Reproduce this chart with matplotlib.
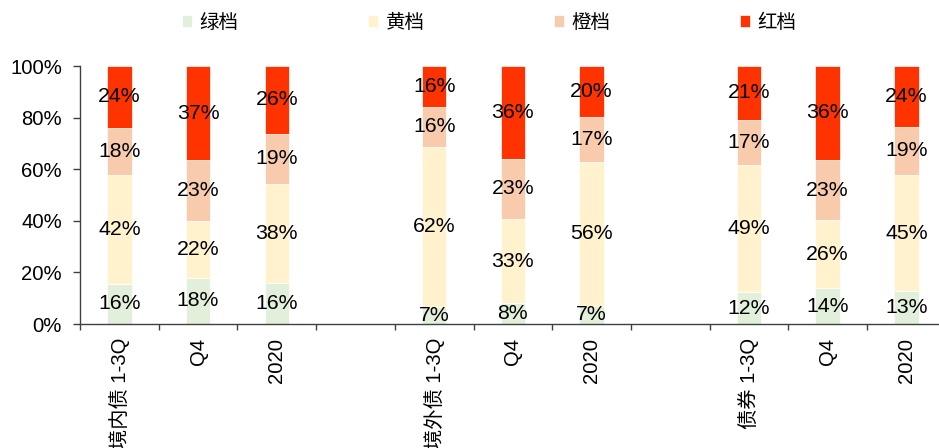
import matplotlib
matplotlib.use("Agg")
import matplotlib.pyplot as plt
import numpy as np
from matplotlib.ticker import FixedLocator, PercentFormatter

plt.rcParams['font.family'] = ['Liberation Sans', 'Noto Sans CJK SC']

# Category slots (empty strings are spacer slots between groups)
categories = ["境内债 1-3Q", "Q4", "2020", "",
              "境外债 1-3Q", "Q4", "2020", "",
              "债券 1-3Q", "Q4", "2020"]
series_names = ["绿档", "黄档", "橙档", "红档"]

# Shares (%) per category, one list per band
green  = [15.6, 17.9, 16.0, np.nan, 6.7, 8.0, 7.0, np.nan, 12.3, 13.8, 12.6]
yellow = [42.0, 22.1, 38.4, np.nan, 62.0, 32.8, 55.9, np.nan, 49.4, 26.4, 45.2]
orange = [18.4, 23.4, 19.4, np.nan, 15.6, 23.3, 17.2, np.nan, 17.4, 23.4, 18.6]
red    = [24.0, 36.6, 26.2, np.nan, 15.7, 35.9, 19.9, np.nan, 20.9, 36.4, 23.6]

colors = ["#E2EFDA", "#FFF2CC", "#F8CBAD", "#FF3300"]

W, H = 939, 448
fig = plt.figure(figsize=(W / 100, H / 100), dpi=100)
ax = fig.add_axes([80 / W, 124 / H, (945.7 - 80) / W, 258 / H])

x = np.arange(len(categories))
bar_w = 0.31
bottom = np.zeros(len(categories))
handles = []
for name, vals, col in zip(series_names, [green, yellow, orange, red], colors):
    v = np.array(vals, dtype=float) / 100.0
    vv = np.nan_to_num(v)
    bars = ax.bar(x, vv, bar_w, bottom=bottom, color=col, edgecolor="white",
                  linewidth=0.5, label=name)
    handles.append(bars)
    for xi, val, b in zip(x, v, bottom):
        if np.isnan(val):
            continue
        ax.text(xi, b + val / 2, f"{val * 100:.0f}%", ha="center", va="center",
                fontsize=15.3, color="black")
    bottom = bottom + vv

ax.set_xlim(-0.5, len(categories) - 0.5)
ax.set_ylim(0, 1)

# Tick marks at slot boundaries, labels at slot centres
ax.xaxis.set_major_locator(FixedLocator(np.arange(-0.5, len(categories), 1.0)))
ax.xaxis.set_minor_locator(FixedLocator(x))
ax.set_xticklabels([""] * len(ax.get_xticks()))
ax.set_xticklabels(categories, minor=True, rotation=90, fontsize=14.6)
ax.tick_params(axis="x", which="major", length=4.5, width=1, color="#404040", direction="out")
ax.tick_params(axis="x", which="minor", length=0, pad=10)

ax.set_yticks(np.linspace(0, 1, 6))
ax.yaxis.set_major_formatter(PercentFormatter(1.0, decimals=0))
ax.tick_params(axis="y", length=5, width=1, color="#404040", direction="out",
               pad=8, labelsize=14.6)

for s in ("top", "right"):
    ax.spines[s].set_visible(False)
for s in ("left", "bottom"):
    ax.spines[s].set_color("#404040")
    ax.spines[s].set_linewidth(1)

fig.legend(handles=handles, labels=series_names, loc="center left",
           bbox_to_anchor=(181.7 / W, 1 - 23 / H), ncol=4, frameon=False,
           fontsize=14, handlelength=0.55, handleheight=0.55,
           handletextpad=0.36, columnspacing=6.65, borderpad=0, borderaxespad=0)

fig.savefig("out.png", dpi=100)
